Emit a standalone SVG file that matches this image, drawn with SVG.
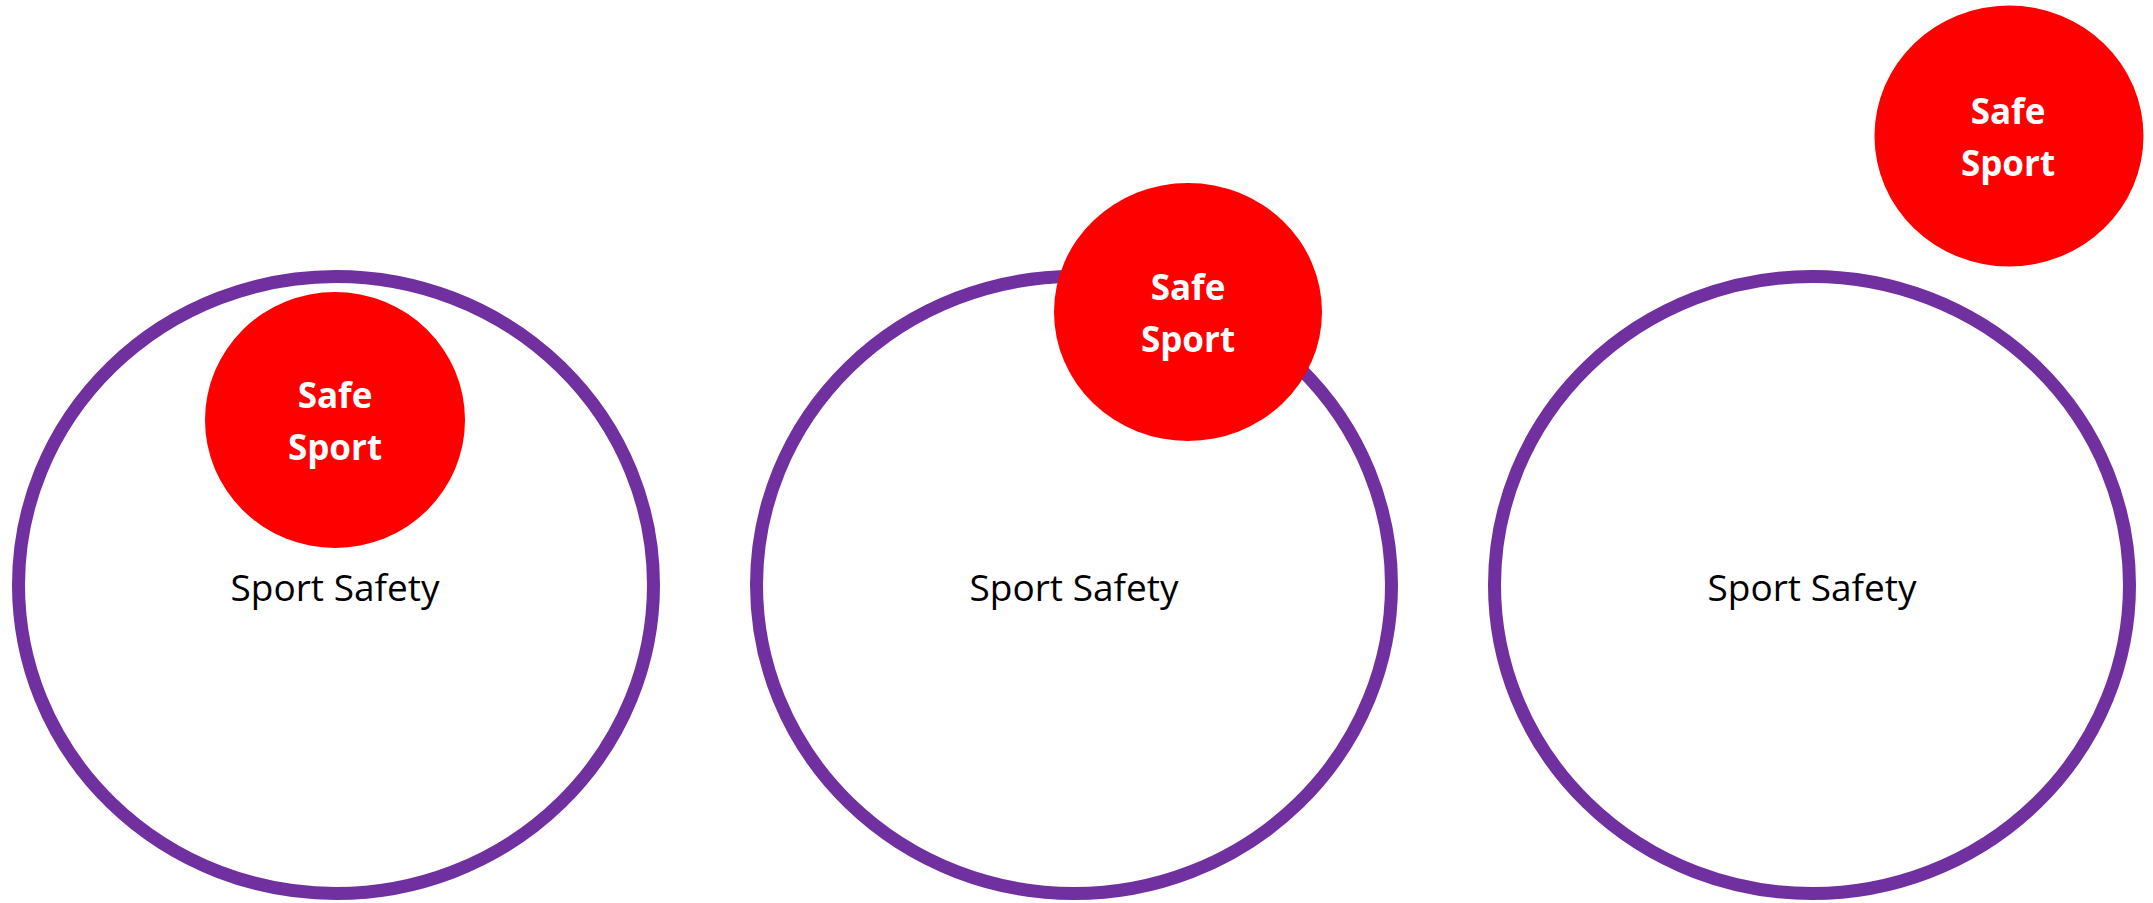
<svg xmlns="http://www.w3.org/2000/svg" width="2153" height="903" viewBox="0 0 2153 903">
<style>
.outer{fill:#FFFFFF;stroke:#7030A0;stroke-width:13}
.inner{fill:#FF0000;stroke:none}
.lbl{font-family:"Open Sans","Liberation Sans",sans-serif;font-size:37px;fill:#000000;text-anchor:middle}
.red{font-family:"Open Sans","Liberation Sans",sans-serif;font-size:35px;font-weight:bold;fill:#FFFFFF;text-anchor:middle}
</style>
<rect width="2153" height="903" fill="#FFFFFF"/>
<g id="connectors"/>
<g id="sport-safety-1">
<ellipse class="outer" cx="336" cy="585" rx="317.5" ry="308.5"/>
<text class="lbl" x="335" y="601">Sport Safety</text>
</g>
<g id="safe-sport-1">
<ellipse class="inner" cx="335" cy="420" rx="130" ry="128"/>
<text class="red" x="335" y="408">Safe</text>
<text class="red" x="335" y="460">Sport</text>
</g>
<g id="sport-safety-2">
<ellipse class="outer" cx="1074" cy="585" rx="317.5" ry="308.5"/>
<text class="lbl" x="1074" y="601">Sport Safety</text>
</g>
<g id="safe-sport-2">
<ellipse class="inner" cx="1188" cy="312" rx="134" ry="129"/>
<text class="red" x="1188" y="300">Safe</text>
<text class="red" x="1188" y="352">Sport</text>
</g>
<g id="sport-safety-3">
<ellipse class="outer" cx="1812" cy="585" rx="317.5" ry="308.5"/>
<text class="lbl" x="1812" y="601">Sport Safety</text>
</g>
<g id="safe-sport-3">
<ellipse class="inner" cx="2009" cy="136" rx="134.5" ry="130.5"/>
<text class="red" x="2008" y="124">Safe</text>
<text class="red" x="2008" y="176">Sport</text>
</g>
</svg>
